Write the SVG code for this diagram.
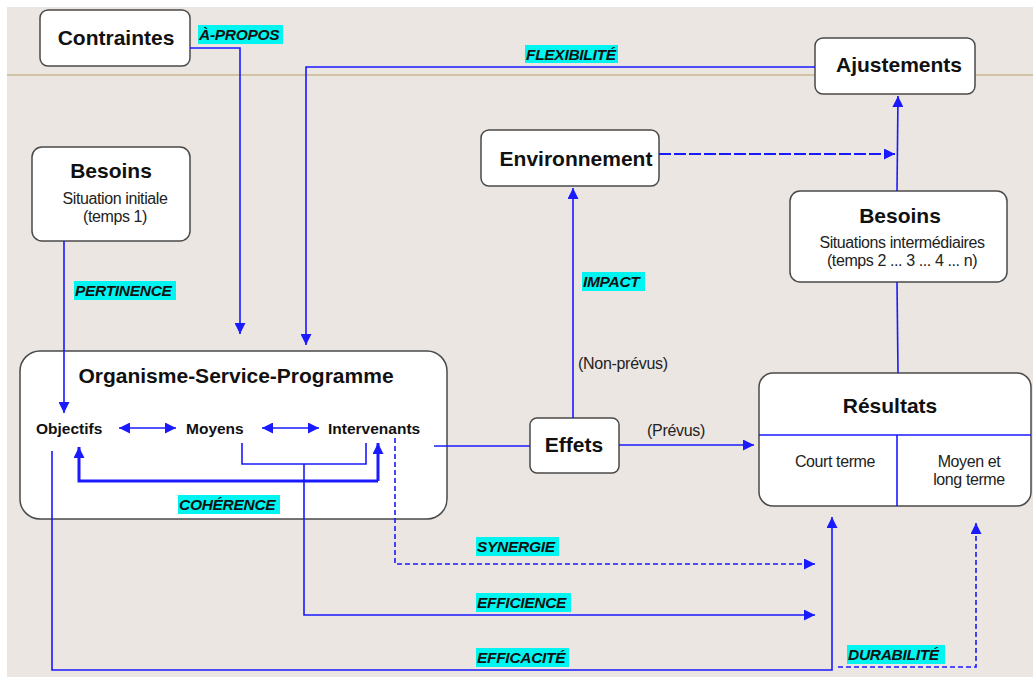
<svg xmlns="http://www.w3.org/2000/svg" width="1033" height="677" viewBox="0 0 1033 677">
  <style>
    .box { fill: #ffffff; stroke: #4a4a4a; stroke-width: 1.5; }
    .title { font-family: "Liberation Sans", Arial, sans-serif; font-weight: bold; font-size: 21px; fill: #111; text-anchor: middle; }
    .sub { font-family: "Liberation Sans", Arial, sans-serif; font-size: 16px; letter-spacing: -0.4px; fill: #222; text-anchor: middle; }
    .item { font-family: "Liberation Sans", Arial, sans-serif; font-weight: bold; font-size: 15.5px; fill: #111; }
    .note { font-family: "Liberation Sans", Arial, sans-serif; font-size: 16px; letter-spacing: -0.3px; fill: #222; }
    .tag { font-family: "Liberation Sans", Arial, sans-serif; font-weight: bold; font-style: italic; font-size: 15.5px; letter-spacing: -0.3px; fill: #111; }
    .tagbg { fill: #00f5f0; }
    .wire { fill: none; stroke: #1a1aff; stroke-width: 1.6; }
    .thick { fill: none; stroke: #1a1aff; stroke-width: 3; }
    .dash { fill: none; stroke: #1a1aff; stroke-width: 1.6; stroke-dasharray: 5 3; }
    .longdash { fill: none; stroke: #1a1aff; stroke-width: 2; stroke-dasharray: 12 3; }
  </style>
  <defs>
    <marker id="arrowL" viewBox="0 0 10 10" refX="10" refY="5" markerWidth="12" markerHeight="11" markerUnits="userSpaceOnUse" orient="auto-start-reverse">
      <path d="M0,0 L10,5 L0,10 z" fill="#1a1aff"/>
    </marker>
  </defs>

  <!-- page background -->
  <rect x="0" y="0" width="1033" height="677" fill="#ffffff"/>
  <rect x="7" y="7" width="1026" height="670" fill="#ebe6e2"/>
  <line x1="7" y1="75" x2="1033" y2="75" stroke="#c9b98f" stroke-width="1.5"/>

  <!-- nodes -->
  <g id="contraintes">
    <rect class="box" x="40" y="10" width="150" height="56" rx="8"/>
    <text class="title" x="116" y="45">Contraintes</text>
  </g>
  <g id="ajustements">
    <rect class="box" x="815" y="38" width="160" height="56" rx="8"/>
    <text class="title" x="899" y="72">Ajustements</text>
  </g>
  <g id="environnement">
    <rect class="box" x="481" y="130" width="178" height="56" rx="8"/>
    <text class="title" x="576" y="166">Environnement</text>
  </g>
  <g id="besoins-initiaux">
    <rect class="box" x="32" y="147" width="158" height="94" rx="10"/>
    <text class="title" x="111" y="178">Besoins</text>
    <text class="sub" x="115" y="204">Situation initiale</text>
    <text class="sub" x="115" y="222">(temps 1)</text>
  </g>
  <g id="besoins-intermediaires">
    <rect class="box" x="790" y="191" width="217" height="91" rx="10"/>
    <text class="title" x="900" y="223">Besoins</text>
    <text class="sub" x="902" y="248">Situations intermédiaires</text>
    <text class="sub" x="902" y="266">(temps 2 ... 3 ...  4 ... n)</text>
  </g>
  <g id="organisme">
    <rect class="box" x="20" y="351" width="427" height="168" rx="20"/>
    <text class="title" x="236" y="383">Organisme-Service-Programme</text>
    <text class="item" x="36" y="434">Objectifs</text>
    <text class="item" x="186" y="434">Moyens</text>
    <text class="item" x="328" y="434">Intervenants</text>
  </g>
  <g id="effets">
    <rect class="box" x="530" y="418" width="89" height="55" rx="7"/>
    <text class="title" x="574" y="452">Effets</text>
  </g>
  <g id="resultats">
    <rect class="box" x="759" y="373" width="272" height="133" rx="14"/>
    <text class="title" x="890" y="413">Résultats</text>
    <line class="wire" x1="759" y1="435" x2="1031" y2="435"/>
    <line class="wire" x1="897" y1="435" x2="897" y2="506"/>
    <text class="sub" x="835" y="467">Court terme</text>
    <text class="sub" x="969" y="467">Moyen et</text>
    <text class="sub" x="969" y="485">long terme</text>
  </g>

  <!-- connectors -->
  <g id="connectors">
    <!-- Contraintes -> Organisme -->
    <polyline class="wire" points="190,48 240,48 240,334" marker-end="url(#arrowL)"/>
    <!-- Ajustements -> Organisme (flexibilité) -->
    <polyline class="wire" points="815,67 306,67 306,345" marker-end="url(#arrowL)"/>
    <!-- Besoins initiaux -> Objectifs -->
    <polyline class="wire" points="64,241 64,413" marker-end="url(#arrowL)"/>
    <!-- Objectifs <-> Moyens <-> Intervenants -->
    <line class="wire" x1="119" y1="428" x2="176" y2="428" marker-start="url(#arrowL)" marker-end="url(#arrowL)"/>
    <line class="wire" x1="262" y1="428" x2="319" y2="428" marker-start="url(#arrowL)" marker-end="url(#arrowL)"/>
    <!-- cohérence loop -->
    <polyline class="thick" points="378,481 79,481 79,447" marker-end="url(#arrowL)"/>
    <polyline class="thick" points="378,481 378,443" marker-end="url(#arrowL)"/>
    <!-- moyens / intervenants bracket -> efficience -->
    <polyline class="wire" points="242,443 242,464 366,464 366,443"/>
    <polyline class="wire" points="304,464 304,615 815,615" marker-end="url(#arrowL)"/>
    <!-- synergie -->
    <polyline class="dash" points="395,438 395,564 815,564" marker-end="url(#arrowL)"/>
    <!-- Intervenants -> Effets -->
    <line class="wire" x1="434" y1="446" x2="530" y2="446"/>
    <!-- efficacité -->
    <polyline class="wire" points="52,451 52,670 832,670 832,517" marker-end="url(#arrowL)"/>
    <!-- durabilité -->
    <polyline class="dash" points="838,667 976,667 976,523" marker-end="url(#arrowL)"/>
    <!-- Effets -> Environnement (impact) -->
    <line class="wire" x1="573" y1="418" x2="573" y2="188" marker-end="url(#arrowL)"/>
    <!-- Effets -> Résultats (prévus) -->
    <line class="wire" x1="619" y1="445" x2="754" y2="445" marker-end="url(#arrowL)"/>
    <!-- Environnement -> Ajustements -->
    <line class="longdash" x1="659" y1="154" x2="895" y2="154" marker-end="url(#arrowL)"/>
    <!-- Besoins intermédiaires -> Ajustements -->
    <line class="wire" x1="897" y1="191" x2="898" y2="96" marker-end="url(#arrowL)"/>
    <!-- Résultats -> Besoins intermédiaires -->
    <line class="wire" x1="898" y1="373" x2="897" y2="282"/>
  </g>

  <!-- connector labels -->
  <g id="labels">
    <rect class="tagbg" x="198" y="25" width="85" height="19"/>
    <text class="tag" x="199" y="40">À-PROPOS</text>
    <rect class="tagbg" x="525" y="45" width="93" height="18"/>
    <text class="tag" x="526" y="60">FLEXIBILITÉ</text>
    <rect class="tagbg" x="74" y="281" width="102" height="19"/>
    <text class="tag" x="75" y="296">PERTINENCE</text>
    <rect class="tagbg" x="178" y="495" width="102" height="19"/>
    <text class="tag" x="179" y="510">COHÉRENCE</text>
    <rect class="tagbg" x="582" y="272" width="63" height="19"/>
    <text class="tag" x="583" y="287">IMPACT</text>
    <rect class="tagbg" x="476" y="537" width="83" height="19"/>
    <text class="tag" x="477" y="552">SYNERGIE</text>
    <rect class="tagbg" x="476" y="593" width="95" height="19"/>
    <text class="tag" x="477" y="608">EFFICIENCE</text>
    <rect class="tagbg" x="476" y="648" width="93" height="19"/>
    <text class="tag" x="477" y="663">EFFICACITÉ</text>
    <rect class="tagbg" x="847" y="645" width="98" height="19"/>
    <text class="tag" x="848" y="660">DURABILITÉ</text>
    <text class="note" x="578" y="369">(Non-prévus)</text>
    <text class="note" x="647" y="436">(Prévus)</text>
  </g>
</svg>
